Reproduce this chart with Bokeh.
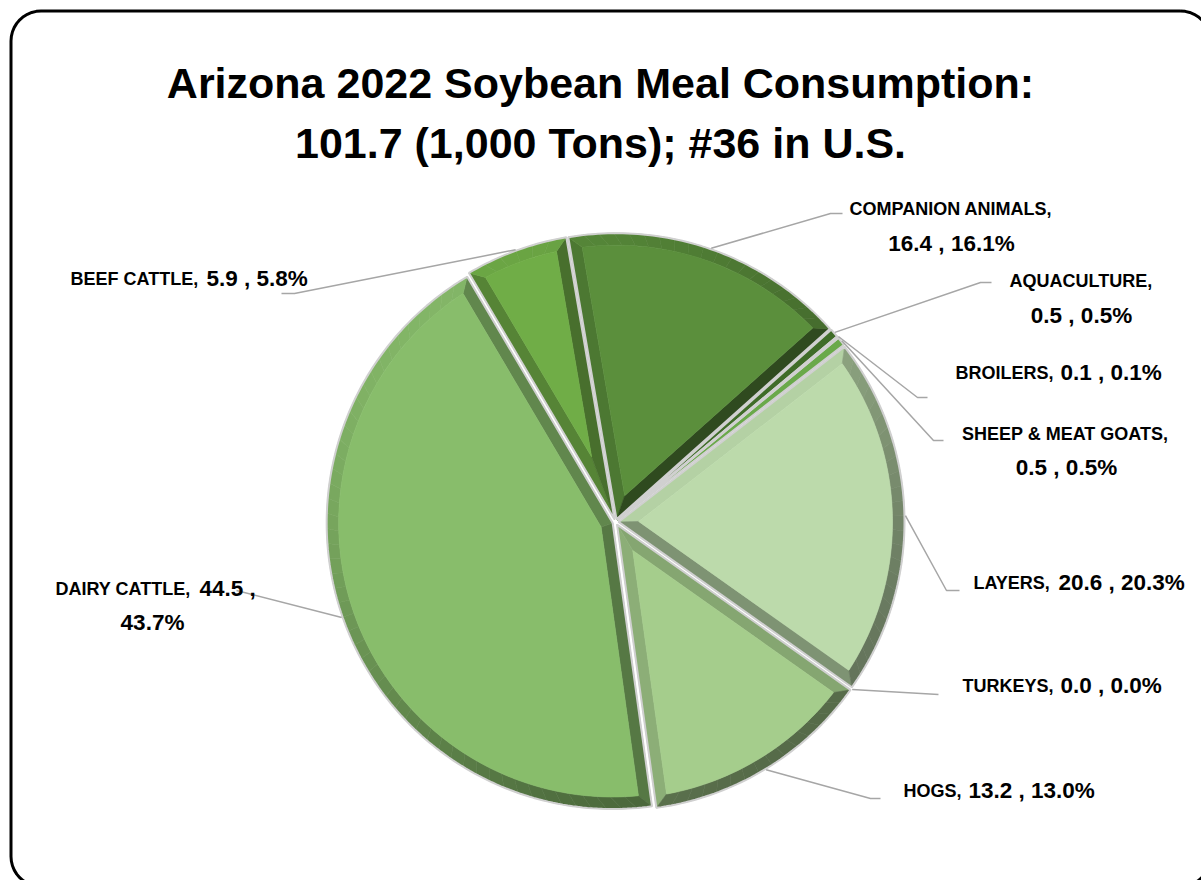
import math
from bokeh.plotting import figure
from bokeh.models import Range1d, ColumnDataSource
from bokeh.embed import file_html
from bokeh.resources import INLINE
from bokeh.core.properties import value

# ---------------- data ----------------
categories = ["Companion Animals", "Aquaculture", "Broilers", "Sheep & Meat Goats",
              "Layers", "Turkeys", "Hogs", "Dairy Cattle", "Beef Cattle"]
consumption = [16.4, 0.5, 0.1, 0.5, 20.6, 0.0, 13.2, 44.5, 5.9]   # 1,000 tons
shares = [16.1, 0.5, 0.1, 0.5, 20.3, 0.0, 13.0, 43.7, 5.8]       # percent
title_lines = ["Arizona 2022 Soybean Meal Consumption:", "101.7 (1,000 Tons); #36 in U.S."]

# ---------------- styles ----------------
slice_colors = ["#5b8f3c", "#3f6c28", "#2f561c", "#6aa94a",
                "#bcdaab", "#c5e0b4", "#a5cd8c", "#88bd6b", "#70ad47"]
FONT = "Liberation Sans"
CAT_SIZE = 18
VAL_SIZE = 22.5
TITLE_SIZE = 43

W, H = 1201, 880
IMG_H = 880
def Y(y_img):
    return IMG_H - y_img

CX, CY = 615.0, Y(521.5)
R = 286.0
EXPL = 3.0
BEVEL = 12.0
START = -9.7   # compass degrees of first slice start

# label layout (image pixel coordinates)
LABEL_LAYOUT = {
    "Companion Animals": [("center", 951, 208, ["cat"]), ("center", 951, 243, ["val"])],
    "Aquaculture": [("center", 1081, 280, ["cat"]), ("center", 1081, 315, ["val"])],
    "Broilers": [("left", 955, 372, ["cat", "val"])],
    "Sheep & Meat Goats": [("center", 1066, 433, ["cat"]), ("center", 1066, 467, ["val"])],
    "Layers": [("left", 973, 582, ["cat", "val"])],
    "Turkeys": [("left", 962, 685, ["cat", "val"])],
    "Hogs": [("left", 903, 790, ["cat", "val"])],
    "Dairy Cattle": [("left", 55, 588, ["cat", "v"]), ("center", 152, 622, ["p"])],
    "Beef Cattle": [("left", 70, 278, ["cat", "val"])],
}
LEADERS = {
    "Companion Animals": [(830, 213), (842, 213)],
    "Aquaculture": [(980, 282), (991, 282)],
    "Broilers": [(917, 397), (927, 397)],
    "Sheep & Meat Goats": [(933, 440), (943, 440)],
    "Layers": [(946, 590), (959, 590)],
    "Turkeys": [(938, 694)],
    "Hogs": [(870, 798), (880, 798)],
    "Dairy Cattle": [(236, 590)],
    "Beef Cattle": [(294, 293), (281, 293)],
}

# Arial/Liberation Sans Bold advance widths (1/1000 em)
ADV = {' ': 278, ',': 278, '.': 278, '%': 889, '&': 722}
for d in "0123456789":
    ADV[d] = 556
ADV.update({'A': 722, 'B': 722, 'C': 722, 'D': 722, 'E': 667, 'F': 611, 'G': 778, 'H': 722,
            'I': 278, 'J': 556, 'K': 722, 'L': 611, 'M': 833, 'N': 722, 'O': 778, 'P': 667,
            'Q': 778, 'R': 722, 'S': 667, 'T': 611, 'U': 722, 'V': 667, 'W': 944, 'X': 667,
            'Y': 667, 'Z': 611})
def text_width(s, size):
    return sum(ADV.get(c, 556) for c in s) * size / 1000.0

def pt(cx, cy, r, a):
    t = math.radians(a)
    return cx + r * math.sin(t), cy + r * math.cos(t)

def hex2rgb(h):
    h = h.lstrip('#')
    return [int(h[i:i + 2], 16) for i in (0, 2, 4)]

def shade(h, f):
    r = hex2rgb(h)
    if f <= 1:
        r = [c * f for c in r]
    else:
        k = min(f - 1, 1)
        r = [c + (255 - c) * k for c in r]
    return "#%02x%02x%02x" % tuple(int(max(0, min(255, round(c)))) for c in r)

LX, LY = -0.6, 0.8
def light_factor(a):
    nx, ny = math.sin(math.radians(a)), math.cos(math.radians(a))
    return 0.74 + 0.22 * (nx * LX + ny * LY)

# ---------------- figure ----------------
p = figure(width=W, height=H, x_range=Range1d(0, W), y_range=Range1d(0, H),
           output_backend="svg", toolbar_location=None, min_border=0,
           x_axis_location=None, y_axis_location=None)
p.grid.visible = False
p.outline_line_color = None
p.background_fill_color = "white"
p.border_fill_color = "white"

# chart frame (rounded rectangle)
fx0, fy0, fx1, fy1, fr = 10.5, 10.5, 1210, 886, 30
bx, by = [], []
corners = [(fx1 - fr, fy0 + fr, -90, 0), (fx1 - fr, fy1 - fr, 0, 90),
           (fx0 + fr, fy1 - fr, 90, 180), (fx0 + fr, fy0 + fr, 180, 270)]
for ccx, ccy, s0, s1 in corners:
    for k in range(11):
        t = math.radians(s0 + (s1 - s0) * k / 10)
        bx.append(ccx + fr * math.cos(t))
        by.append(Y(ccy + fr * math.sin(t)))
bx.append(bx[0]); by.append(by[0])
p.line(bx, by, line_color="black", line_width=3)

# ---------------- pie ----------------
band_xs, band_ys, band_cs = [], [], []
out_xs, out_ys = [], []
edge_pts = {}
angle = START
for cat, share, col in zip(categories, shares, slice_colors):
    theta = share / 100.0 * 360.0
    a0, a1 = angle, angle + theta
    angle = a1
    mid = (a0 + a1) / 2
    ax, ay = pt(CX, CY, EXPL, mid)
    edge_pts[cat] = pt(ax, ay, R + 1, mid)
    if theta <= 0:
        continue
    n = max(2, int(theta / 1.0) + 2)
    arc = [pt(ax, ay, R, a0 + theta * k / (n - 1)) for k in range(n)]
    oxs = [ax] + [q[0] for q in arc]
    oys = [ay] + [q[1] for q in arc]
    out_xs.append(oxs); out_ys.append(oys)
    if theta < 8:
        band_xs.append(oxs); band_ys.append(oys); band_cs.append(col)
        continue
    half = math.radians(theta / 2)
    ain = pt(ax, ay, BEVEL / math.sin(half), mid)
    dphi = math.degrees(math.asin(BEVEL / (R - BEVEL)))
    f0, f1 = a0 + dphi, a1 - dphi
    P0 = pt(ax, ay, R, a0); P1 = pt(ax, ay, R, a1)
    I0 = pt(ax, ay, R - BEVEL, f0); I1 = pt(ax, ay, R - BEVEL, f1)
    # radial bevel bands
    band_xs.append([ax, P0[0], I0[0], ain[0]]); band_ys.append([ay, P0[1], I0[1], ain[1]])
    band_cs.append(shade(col, light_factor(a0 - 90)))
    band_xs.append([ax, ain[0], I1[0], P1[0]]); band_ys.append([ay, ain[1], I1[1], P1[1]])
    band_cs.append(shade(col, light_factor(a1 + 90)))
    # arc bevel band
    K = max(2, int(theta / 3))
    for k in range(K):
        t0 = a0 + theta * k / K; t1 = a0 + theta * (k + 1) / K
        s0 = f0 + (f1 - f0) * k / K; s1 = f0 + (f1 - f0) * (k + 1) / K
        q = [pt(ax, ay, R, t0), pt(ax, ay, R, t1), pt(ax, ay, R - BEVEL, s1), pt(ax, ay, R - BEVEL, s0)]
        band_xs.append([v[0] for v in q]); band_ys.append([v[1] for v in q])
        band_cs.append(shade(col, light_factor((t0 + t1) / 2)))
    # face
    m = max(2, int((f1 - f0) / 1.0) + 2)
    inner = [pt(ax, ay, R - BEVEL, f0 + (f1 - f0) * k / (m - 1)) for k in range(m)]
    band_xs.append([ain[0]] + [v[0] for v in inner])
    band_ys.append([ain[1]] + [v[1] for v in inner])
    band_cs.append(col)

p.patches(xs="xs", ys="ys", fill_color="c", line_color="c", line_width=0.6,
          source=ColumnDataSource(dict(xs=band_xs, ys=band_ys, c=band_cs)))
p.patches(xs=out_xs, ys=out_ys, fill_alpha=0, line_color="#d0d0d0", line_width=2)

# ---------------- leader lines ----------------
lxs, lys = [], []
for cat in categories:
    sx, sy = edge_pts[cat]
    pts = LEADERS[cat]
    lxs.append([sx] + [q[0] for q in pts])
    lys.append([sy] + [Y(q[1]) for q in pts])
p.multi_line(xs=lxs, ys=lys, line_color="#a6a6a6", line_width=1.5)

# ---------------- labels ----------------
runs = {}
def add_run(size, x, y, s):
    d = runs.setdefault(size, dict(x=[], y=[], text=[]))
    d["x"].append(x); d["y"].append(Y(y)); d["text"].append(s)

GAP = 7
for cat, v, s in zip(categories, consumption, shares):
    pieces = {"cat": (cat.upper() + ",", CAT_SIZE),
              "val": ("%.1f , %.1f%%" % (v, s), VAL_SIZE),
              "v": ("%.1f ," % v, VAL_SIZE),
              "p": ("%.1f%%" % s, VAL_SIZE)}
    for mode, x, base, keys in LABEL_LAYOUT[cat]:
        items = [pieces[k] for k in keys]
        widths = [text_width(t, sz) for t, sz in items]
        total = sum(widths) + GAP * (len(items) - 1)
        cx = x if mode == "left" else x - total / 2
        for (t, sz), w in zip(items, widths):
            add_run(sz, cx, base, t)
            cx += w + GAP

for size, d in runs.items():
    p.text(x="x", y="y", text="text", source=ColumnDataSource(d),
           text_font=value(FONT), text_font_style="bold", text_font_size=value("%gpx" % size),
           text_baseline="alphabetic", text_align="left", text_color="#000000")

# ---------------- title ----------------
p.text(x=[600, 600], y=[Y(82), Y(142)], text=title_lines,
       text_font=value(FONT), text_font_style="bold", text_font_size=value("%dpx" % TITLE_SIZE),
       text_baseline="alphabetic", text_align="center", text_color="#000000")

open("out.html", "w").write(file_html(p, INLINE))
